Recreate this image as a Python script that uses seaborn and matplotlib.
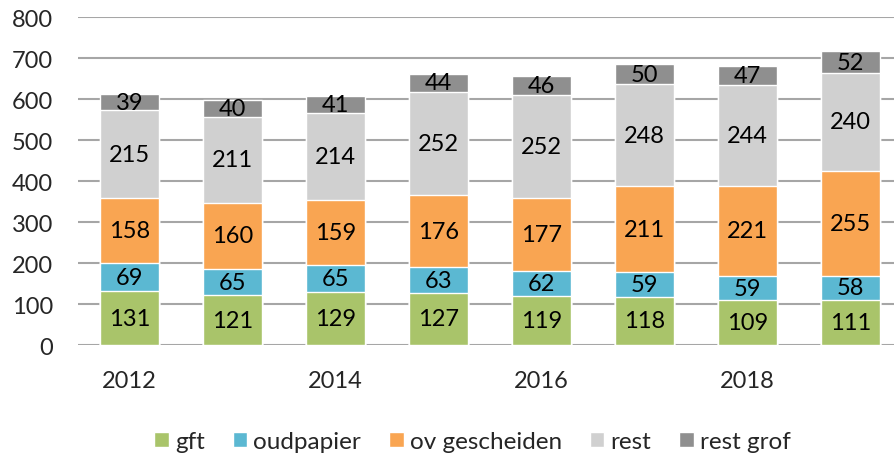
import numpy as np
import pandas as pd
import matplotlib.pyplot as plt
import seaborn as sns

years = [2012, 2013, 2014, 2015, 2016, 2017, 2018, 2019]
gft = [131, 121, 129, 127, 119, 118, 109, 111]
oudpapier = [69, 65, 65, 63, 62, 59, 59, 58]
ov_gescheiden = [158, 160, 159, 176, 177, 211, 221, 255]
rest = [215, 211, 214, 252, 252, 248, 244, 240]
rest_grof = [39, 40, 41, 44, 46, 50, 47, 52]

series = ["gft", "oudpapier", "ov gescheiden", "rest", "rest grof"]
values = [gft, oudpapier, ov_gescheiden, rest, rest_grof]
colors = ["#A9C46A", "#5BB8D2", "#F9A552", "#D0D0D0", "#8F8F8F"]

sns.set_style("white")
plt.rcParams["font.family"] = ["Lato", "DejaVu Sans"]

df = pd.DataFrame({"jaar": years})
for name, vals in zip(series, values):
    df[name] = vals
cum = df[series].cumsum(axis=1)

fig = plt.figure(figsize=(8.95, 4.56), dpi=100)
ax = fig.add_axes([0.087, 0.2412, 0.913, 0.7193])

# draw cumulative totals from top to bottom so they overlap as a stack
for i in reversed(range(len(series))):
    sns.barplot(x=df["jaar"].astype(str), y=cum[series[i]], color=colors[i],
                width=0.57, ax=ax, label=series[i], saturation=1, zorder=3)

for i, name in enumerate(series):
    bottom = cum[series[i]] - df[name]
    for j, v in enumerate(df[name]):
        ax.text(j, bottom[j] + v / 2, str(v), ha="center", va="center",
                fontsize=17, color="black", zorder=4)

ax.set_ylim(0, 800)
ax.set_xlim(-0.5, 7.43)
ax.set_yticks(range(0, 801, 100))
ax.yaxis.grid(True, color="#A6A6A6", linewidth=1.5, zorder=0)
ax.set_xticks([0, 2, 4, 6])
ax.set_xticklabels(["2012", "2014", "2016", "2018"])
ax.tick_params(axis="both", labelsize=17, length=0)
ax.tick_params(axis="x", pad=18)
ax.tick_params(axis="y", pad=18)
for s in ax.spines.values():
    s.set_visible(False)
ax.set_xlabel("")
ax.set_ylabel("")

handles, labels = ax.get_legend_handles_labels()
order = [labels.index(n) for n in series]
ax.legend([handles[k] for k in order], series, loc="upper center",
          bbox_to_anchor=(0.483, -0.195), ncol=5, frameon=False, fontsize=17.5,
          handlelength=0.6, handleheight=0.6, handletextpad=0.25, columnspacing=1.15)

fig.savefig("out.png", dpi=100)
